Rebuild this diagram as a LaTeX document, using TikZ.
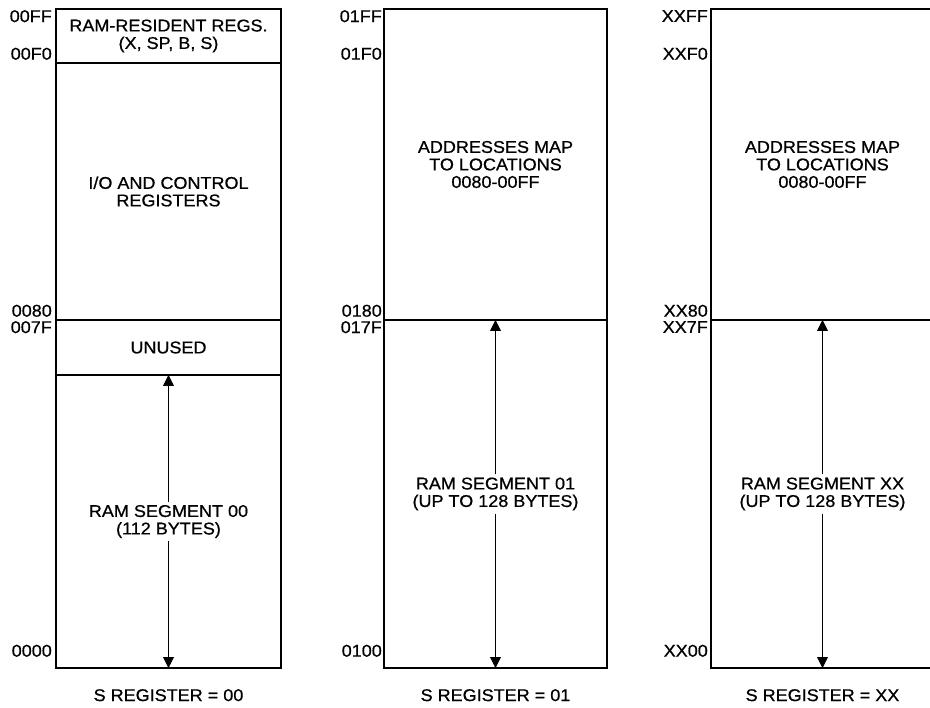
\documentclass[tikz,border=0pt]{standalone}
\usepackage{fontspec}
\setmainfont{Liberation Sans}[FakeStretch=1.06, FakeBold=0.7]
\usetikzlibrary{arrows.meta, positioning}

\begin{document}
\begin{tikzpicture}[
    x=1pt, y=-1pt,
    every node/.style={font=\fontsize{17}{17.5}\selectfont},
    region/.style={draw, line width=1.6pt, inner sep=0pt, outer sep=0pt, align=center},
    addr/.style={inner xsep=2pt, inner ysep=1pt},
    seglabel/.style={align=center, inner sep=3pt},
    span/.style={-{Triangle[length=11pt, width=11pt]}, line width=0.9pt}
  ]
    \useasboundingbox (0,0) rectangle (930,708);

    % S = 00
    \node[region, minimum width=225pt, minimum height=54pt] (regs) at (168.5,36) {RAM-RESIDENT REGS.\\(X, SP, B, S)};
    \node[region, minimum width=225pt, minimum height=257pt] (io) at (168.5,191.5) {I/O AND CONTROL\\REGISTERS};
    \node[region, minimum width=225pt, minimum height=55pt] (unused) at (168.5,347.5) {UNUSED};
    \node[region, minimum width=225pt, minimum height=293pt] (seg0) at (168.5,521.5) {};
    \node[seglabel] (lbl0) at (seg0) {RAM SEGMENT 00\\(112 BYTES)};
    \draw[span] (lbl0) -- (seg0.north);
    \draw[span] (lbl0) -- (seg0.south);

    \node[addr, anchor=north east, xshift=-2pt] (a00ff) at (regs.north west) {00FF};
    \node[addr, anchor=south east, xshift=-2pt, yshift=2pt] (a00f0) at (regs.south west) {00F0};
    \node[addr, anchor=south east, xshift=-2pt, yshift=2pt] (a0080) at (io.south west) {0080};
    \node[addr, anchor=north east, xshift=-2pt] (a007f) at (unused.north west) {007F};
    \node[addr, anchor=south east, xshift=-2pt, yshift=10pt] (a0000) at (seg0.south west) {0000};
    \node[below=21pt of seg0, inner sep=0pt] (cap0) {S REGISTER = 00};

    % S = 01
    \node[region, minimum width=223pt, minimum height=311pt] (map1) at (495.5,164.5) {ADDRESSES MAP\\TO LOCATIONS\\0080-00FF};
    \node[region, minimum width=223pt, minimum height=348pt] (seg1) at (495.5,494) {};
    \node[seglabel] (lbl1) at (seg1) {RAM SEGMENT 01\\(UP TO 128 BYTES)};
    \draw[span] (lbl1) -- (seg1.north);
    \draw[span] (lbl1) -- (seg1.south);

    \coordinate (f1) at ([yshift=-54pt]map1.north west);
    \node[addr, anchor=north east] (a01ff) at (map1.north west) {01FF};
    \node[addr, anchor=south east, yshift=2pt] (a01f0) at (f1) {01F0};
    \node[addr, anchor=south east, yshift=2pt] (a0180) at (map1.south west) {0180};
    \node[addr, anchor=north east] (a017f) at (seg1.north west) {017F};
    \node[addr, anchor=south east, yshift=10pt] (a0100) at (seg1.south west) {0100};
    \node[below=21pt of seg1, inner sep=0pt] (cap1) {S REGISTER = 01};

    % S = XX
    \node[region, minimum width=223pt, minimum height=311pt] (mapx) at (822.5,164.5) {ADDRESSES MAP\\TO LOCATIONS\\0080-00FF};
    \node[region, minimum width=223pt, minimum height=348pt] (segx) at (822.5,494) {};
    \node[seglabel] (lblx) at (segx) {RAM SEGMENT XX\\(UP TO 128 BYTES)};
    \draw[span] (lblx) -- (segx.north);
    \draw[span] (lblx) -- (segx.south);

    \coordinate (fx) at ([yshift=-54pt]mapx.north west);
    \node[addr, anchor=north east, xshift=-1pt] (axxff) at (mapx.north west) {XXFF};
    \node[addr, anchor=south east, xshift=-1pt, yshift=2pt] (axxf0) at (fx) {XXF0};
    \node[addr, anchor=south east, xshift=-1pt, yshift=2pt] (axx80) at (mapx.south west) {XX80};
    \node[addr, anchor=north east, xshift=-1pt] (axx7f) at (segx.north west) {XX7F};
    \node[addr, anchor=south east, xshift=-1pt, yshift=10pt] (axx00) at (segx.south west) {XX00};
    \node[below=21pt of segx, inner sep=0pt] (capx) {S REGISTER = XX};
\end{tikzpicture}
\end{document}
